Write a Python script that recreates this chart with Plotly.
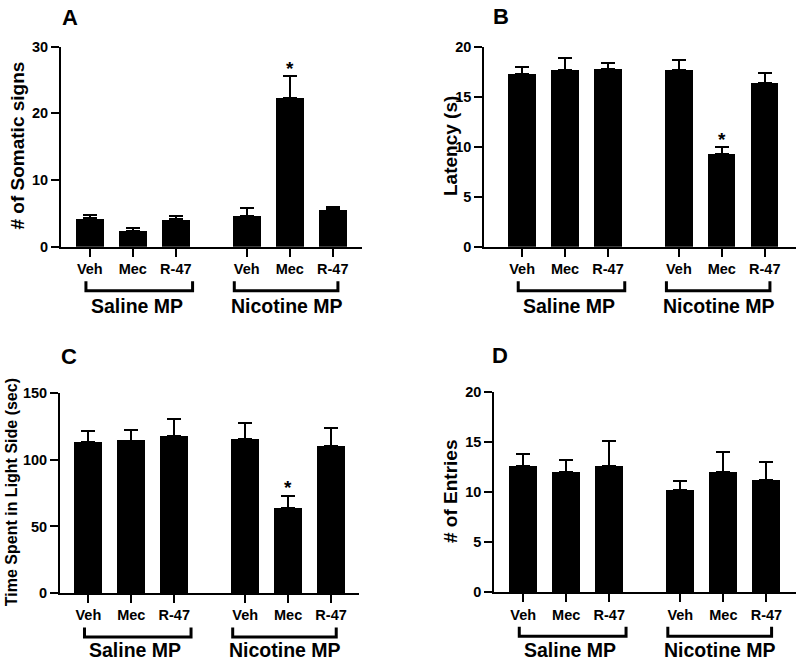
import plotly.graph_objects as go

W, H = 800, 661

# ---------------- data ----------------
drug_labels = ["Veh", "Mec", "R-47"]
group_labels = ["Saline MP", "Nicotine MP"]
tick_labels = drug_labels + drug_labels

somatic_mean = [4.25, 2.4, 4.1, 4.65, 22.35, 5.6]
somatic_sem = [0.5, 0.45, 0.5, 1.2, 3.25, 0.4]

latency_mean = [17.3, 17.7, 17.8, 17.7, 9.3, 16.4]
latency_sem = [0.7, 1.2, 0.6, 1.0, 0.63, 0.97]

lightside_mean = [113.4, 114.4, 118.0, 115.5, 63.6, 110.4]
lightside_sem = [8.6, 8.1, 12.5, 12.5, 9.3, 13.6]

entries_mean = [12.6, 12.0, 12.6, 10.2, 12.0, 11.2]
entries_sem = [1.15, 1.16, 2.48, 0.93, 1.96, 1.82]

significant = [False, False, False, False, True, False]  # Nicotine MP + Mec (A, B, C)

# ---------------- layout helpers ----------------
GROUP_STEP = 3.65
positions = [g * GROUP_STEP + i for g in range(2) for i in range(3)]

FONT = "Liberation Sans, Arial, sans-serif"


def px(x):
    return x / W


def py(y):
    return 1 - y / H


panels = [
    dict(letter="A", mean=somatic_mean, sem=somatic_sem, title="# of Somatic signs",
         yrange=[0, 30], dtick=10, xpix=(61, 362), ypix=(246.7, 46.7), xrange=[-0.67, 6.33],
         lpos=(69.5, 17), tpos=(17.5, 146), tsize=19, stars=True),
    dict(letter="B", mean=latency_mean, sem=latency_sem, title="Latency (s)",
         yrange=[0, 20], dtick=5, xpix=(484.3, 795.7), ypix=(246.7, 46.7), xrange=[-0.88, 6.37],
         lpos=(500.5, 16), tpos=(451, 146), tsize=19, stars=True),
    dict(letter="C", mean=lightside_mean, sem=lightside_sem, title="Time Spent in Light Side (sec)",
         yrange=[0, 150], dtick=50, xpix=(60, 359), ypix=(593, 393.3), xrange=[-0.66, 6.3],
         lpos=(68.5, 356), tpos=(11.7, 492.5), tsize=16, stars=True),
    dict(letter="D", mean=entries_mean, sem=entries_sem, title="# of Entries",
         yrange=[0, 20], dtick=5, xpix=(494.3, 795.7), ypix=(592.3, 391.7), xrange=[-0.67, 6.33],
         lpos=(500, 355), tpos=(451, 492), tsize=19, stars=False),
]

fig = go.Figure()
annotations = []
shapes = []

for k, p in enumerate(panels):
    n = "" if k == 0 else str(k + 1)
    xa, ya = "x" + n, "y" + n
    fig.add_trace(go.Bar(
        x=positions, y=p["mean"], width=0.65,
        marker=dict(color="black", line=dict(width=0)),
        error_y=dict(type="data", symmetric=False, array=p["sem"],
                     arrayminus=[0] * len(p["sem"]), color="black",
                     thickness=2, width=7),
        xaxis=xa, yaxis=ya, showlegend=False, hoverinfo="skip",
    ))
    fig.update_layout(**{
        "xaxis" + n: dict(
            domain=[px(p["xpix"][0]), px(p["xpix"][1])], range=p["xrange"],
            anchor=ya, tickvals=positions, ticktext=tick_labels,
            ticks="outside", ticklen=8, tickwidth=2, tickcolor="black",
            showline=True, linewidth=2, linecolor="black", showgrid=False,
            zeroline=False, tickfont=dict(family=FONT, size=14.5, color="black", weight="bold"),
            fixedrange=True, automargin=False,
        ),
        "yaxis" + n: dict(
            domain=[py(p["ypix"][0]), py(p["ypix"][1])], range=p["yrange"],
            anchor=xa, dtick=p["dtick"], tick0=0,
            ticks="outside", ticklen=8, tickwidth=2, tickcolor="black",
            showline=True, linewidth=2, linecolor="black", showgrid=False,
            zeroline=False, tickfont=dict(family=FONT, size=14.5, color="black", weight="bold"),
            fixedrange=True, automargin=False,
        ),
    })

    annotations.append(dict(text=p["letter"], x=px(p["lpos"][0]), y=py(p["lpos"][1]),
                            xref="paper", yref="paper", showarrow=False,
                            xanchor="center", yanchor="middle",
                            font=dict(family=FONT, size=22, color="black", weight="bold")))
    annotations.append(dict(text=p["title"], x=px(p["tpos"][0]), y=py(p["tpos"][1]),
                            xref="paper", yref="paper", showarrow=False, textangle=-90,
                            xanchor="center", yanchor="middle",
                            font=dict(family=FONT, size=p["tsize"], color="black", weight="bold")))
    if p["stars"]:
        for xpos, m, s, sig in zip(positions, p["mean"], p["sem"], significant):
            if sig:
                annotations.append(dict(text="*", x=xpos, y=m + s, xref=xa, yref=ya,
                                        showarrow=False, xanchor="center", yanchor="middle",
                                        yshift=8,
                                        font=dict(family=FONT, size=19, color="black", weight="bold")))
    bot = p["ypix"][0]
    br_top = py(bot + 34.5)
    br_bot = py(bot + 44)
    spans = [(positions[0] - 0.09, positions[2] + 0.39),
             (positions[3] - 0.29, positions[5] + 0.12)]
    label_x = [positions[1] + 0.09, positions[4] - 0.07]
    for (x0, x1), lx, glab in zip(spans, label_x, group_labels):
        shapes.append(dict(type="path",
                           path=f"M {x0} {br_top} L {x0} {br_bot} L {x1} {br_bot} L {x1} {br_top}",
                           xref=xa, yref="paper",
                           line=dict(color="black", width=3)))
        annotations.append(dict(text=glab, x=lx, y=py(min(bot + 59, H - 11.5)), xref=xa, yref="paper",
                                showarrow=False, xanchor="center", yanchor="middle", borderpad=0,
                                font=dict(family=FONT, size=19.5, color="black", weight="bold")))

fig.update_layout(
    width=W, height=H, margin=dict(l=0, r=0, t=0, b=0, pad=0, autoexpand=False),
    paper_bgcolor="white", plot_bgcolor="white",
    annotations=annotations, shapes=shapes,
    bargap=0, showlegend=False,
)

page_fix = (
    "document.body.style.margin='0';"
    "document.body.style.overflow='hidden';"
)

fig.write_html("out.html", config={"displayModeBar": False}, post_script=page_fix)
